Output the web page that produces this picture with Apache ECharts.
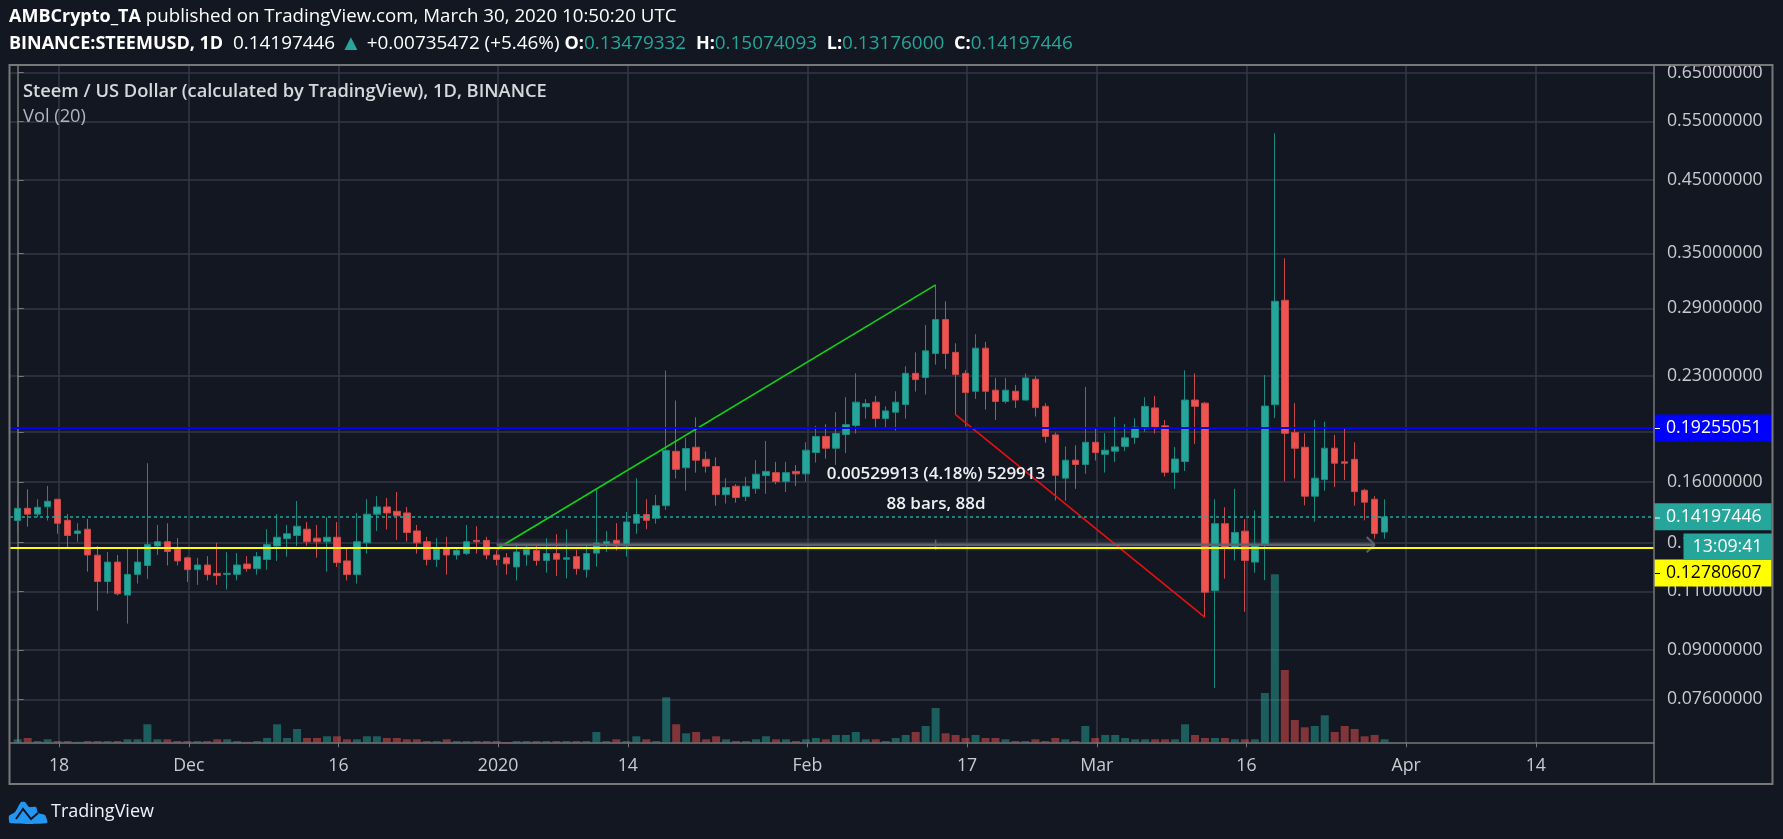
<!DOCTYPE html>
<html>
<head>
<meta charset="utf-8">
<title>STEEMUSD 1D</title>
<style>html,body{margin:0;padding:0;background:#131722}#chart{width:1783px;height:839px}</style>
<script src="https://cdn.jsdelivr.net/npm/echarts@6/dist/echarts.min.js"></script>
</head>
<body>
<div id="chart"></div>
<script>
// Daily STEEMUSD bars: open, close, low, high. The first bar is 14 Nov 2019.
const firstDay = Date.UTC(2019, 10, 14);
const ohlc = [
[.1402,.1462,.1346,.1531],[.1462,.1433,.1373,.1560],[.1433,.1467,.1418,.1508],[.1470,.1498,.1402,.1578],
[.1508,.1389,.1340,.1508],[.1403,.1332,.1272,.1433],[.1341,.1353,.1304,.1389],[.1361,.1246,.1177,.1410],
[.1245,.1138,.1030,.1285],[.1138,.1216,.1091,.1259],[.1216,.1091,.1085,.1246],[.1086,.1166,.0985,.1272],
[.1166,.1216,.1130,.1278],[.1202,.1291,.1148,.1706],[.1285,.1304,.1246,.1381],[.1304,.1261,.1202,.1389],
[.1272,.1221,.1202,.1320],[.1234,.1185,.1136,.1239],[.1185,.1204,.1125,.1234],[.1204,.1165,.1142,.1241],
[.1170,.1161,.1125,.1299],[.1166,.1170,.1107,.1259],[.1166,.1204,.1142,.1254],[.1208,.1189,.1177,.1241],
[.1189,.1239,.1165,.1259],[.1227,.1291,.1184,.1361],[.1285,.1324,.1221,.1433],[.1318,.1340,.1239,.1381],
[.1332,.1375,.1285,.1499],[.1361,.1304,.1285,.1395],[.1320,.1304,.1234,.1381],[.1304,.1324,.1177,.1418],
[.1324,.1214,.1196,.1395],[.1221,.1165,.1142,.1278],[.1165,.1304,.1130,.1439],[.1299,.1433,.1252,.1508],
[.1433,.1469,.1353,.1524],[.1469,.1439,.1360,.1515],[.1447,.1425,.1312,.1546],[.1439,.1346,.1304,.1469],
[.1353,.1299,.1252,.1381],[.1304,.1227,.1202,.1326],[.1227,.1272,.1196,.1320],[.1272,.1246,.1165,.1326],
[.1246,.1266,.1227,.1278],[.1252,.1304,.1246,.1381],[.1310,.1304,.1252,.1375],[.1310,.1246,.1227,.1326],
[.1246,.1227,.1202,.1266],[.1234,.1209,.1165,.1254],[.1196,.1259,.1142,.1299],[.1247,.1270,.1201,.1292],
[.1265,.1223,.1201,.1292],[.1223,.1252,.1173,.1320],[.1252,.1228,.1160,.1338],[.1228,.1234,.1150,.1361],
[.1239,.1189,.1165,.1268],[.1185,.1252,.1153,.1292],[.1254,.1298,.1198,.1557],[.1292,.1304,.1259,.1353],
[.1310,.1286,.1265,.1389],[.1286,.1395,.1239,.1444],[.1389,.1431,.1340,.1621],[.1431,.1403,.1361,.1508],
[.1413,.1475,.1387,.1531],[.1475,.1783,.1454,.2343],[.1777,.1671,.1619,.2115],[.1680,.1794,.1553,.1861],
[.1802,.1724,.1652,.1997],[.1729,.1689,.1652,.1776],[.1687,.1532,.1475,.1741],[.1532,.1570,.1486,.1621],
[.1577,.1517,.1491,.1588],[.1522,.1577,.1499,.1628],[.1564,.1643,.1537,.1724],[.1635,.1659,.1537,.1841],
[.1652,.1602,.1588,.1714],[.1602,.1652,.1546,.1714],[.1659,.1645,.1578,.1695],[.1645,.1784,.1602,.1833],
[.1770,.1870,.1710,.1939],[.1870,.1796,.1733,.1950],[.1796,.1889,.1696,.2032],[.1883,.1947,.1766,.2139],
[.1941,.2103,.1889,.2321],[.2071,.2093,.1988,.2125],[.2103,.1988,.1919,.2149],[.1988,.2041,.1919,.2073],
[.2032,.2103,.1908,.2183],[.2086,.2321,.1988,.2378],[.2321,.2272,.2181,.2494],[.2288,.2507,.2159,.2738],
[.2484,.2790,.2391,.3142],[.2790,.2484,.2356,.2971],[.2494,.2311,.2015,.2573],[.2321,.2173,.1934,.2347],
[.2183,.2530,.2127,.2654],[.2530,.2183,.2050,.2585],[.2191,.2108,.1978,.2285],[.2108,.2191,.2093,.2285],
[.2183,.2118,.2062,.2229],[.2118,.2285,.2115,.2321],[.2275,.2064,.2002,.2298],[.2073,.1870,.1831,.2095],
[.1880,.1637,.1502,.1895],[.1621,.1724,.1500,.1807],[.1724,.1699,.1563,.1814],[.1699,.1833,.1645,.2216],
[.1833,.1770,.1722,.1930],[.1759,.1784,.1652,.1891],[.1778,.1804,.1714,.2000],[.1807,.1861,.1778,.1950],
[.1863,.1930,.1823,.1990],[.1921,.2073,.1900,.2139],[.2062,.1930,.1889,.2149],[.1939,.1654,.1630,.1978],
[.1654,.1731,.1563,.1804],[.1716,.2118,.1661,.2345],[.2118,.2073,.1823,.2321],[.2096,.1097,.1006,.2105],
[.1103,.1387,.0790,.1508],[.1387,.1278,.1149,.1467],[.1278,.1346,.1223,.1563],[.1352,.1223,.1026,.1408],
[.1216,.1291,.1173,.1452],[.1289,.2075,.1143,.2308],[.2085,.2971,.1991,.5282],[.2981,.1890,.1604,.3442],
[.1896,.1796,.1620,.2096],[.1802,.1524,.1477,.1890],[.1524,.1621,.1396,.1979],[.1613,.1796,.1553,.1967],
[.1796,.1706,.1573,.1880],[.1714,.1706,.1611,.1930],[.1729,.1548,.1475,.1833],[.1555,.1493,.1403,.1563],
[.1508,.1341,.1318,.1524],[.13479332,.14197446,.13176,.15074093]
];
const volumes = [
3,4.3,1.3,3,1.3,1.3,.5,1.3,1.3,1.3,1.3,3,3,18,3,3,1.3,1.3,1.3,1.3,3,3,1.3,.5,1.3,4.3,18,4.3,13.3,4.3,
4.3,6,6,3,3,6,6,4.3,4.3,3,3,1.3,1.3,3,1.3,1.3,1.3,1.3,1.3,.3,1.3,1.3,1.3,1.3,1.3,1.3,1.3,1.3,10.3,1.3,
3,1.3,6,3,1.3,45,18,9,10.3,3,6,3,1.3,1.3,3,6,3,3,1.3,3,4.3,3,7.3,7.3,10.3,3,3,1.3,4.3,7.3,
10.3,16.3,34.3,9,7.3,4.3,7.3,4.3,4.3,3,1.3,1.3,3,1.3,4.3,3,1.3,16.3,4.3,7.3,7.3,4.3,3,3,3,3,3,18,
7.3,4.3,4.3,4.3,3,3,3,49.3,168,72.3,22.3,15,16.3,27,10.3,16.3,13.3,6,7.3,3
];
const tickDates = ['2019-11-18','2019-12-01','2019-12-16','2020-01-01','2020-01-14','2020-02-01','2020-02-17','2020-03-01','2020-03-16','2020-04-01','2020-04-14'];
const tickLabels = ['18','Dec','16','2020','14','Feb','17','Mar','16','Apr','14'];
const priceTicks = [0.65,0.55,0.45,0.35,0.29,0.23,0.19,0.16,0.13,0.11,0.09,0.076];
const lastPrice = 0.14197446, blueLevel = 0.19255051, yellowLevel = 0.12780607;
const riseLine = [['2020-01-01',0.1272],['2020-02-14',0.3142]];
const fallLine = [['2020-02-16',0.2015],['2020-03-12',0.1006]];
const rangeLine = [['2020-01-01',0.1290],['2020-03-29',0.1290]];
const rangeMidTick = [['2020-02-14',0.1313],['2020-02-14',0.1268]];
const rangeArrow = [['2020-03-28T05:00:00Z',0.1325],['2020-03-29',0.1290],['2020-03-28T05:00:00Z',0.1258]];
const rangeBand = [0.1264,0.1317];

const DAY = 864e5;
const UP = '#26a69a', DOWN = '#ef5350', UP_EDGE = '#1b8a80', DOWN_EDGE = '#c9494a';
const FONT = '"Open Sans", sans-serif';
const GRID_COLOR = '#333747', AXIS_COLOR = '#787878', LABEL_COLOR = '#c9cbd0';
const AXIS_FONT_SIZE = 17.7;
// The x axis counts days since the first bar; date ticks sit slightly right of the bar centre.
const TICK_SHIFT = 0.15;
const dayIndex = s => (new Date(s).getTime() - firstDay) / DAY;
const onDays = rows => rows.map(r => [dayIndex(r[0]), r[1]]);
const tickDays = tickDates.map(d => dayIndex(d) + TICK_SHIFT);
const tickName = {};
tickDays.forEach((d, i) => { tickName[d] = tickLabels[i]; });

const candleRows = ohlc.map((r, i) => [i, r[0], r[1], r[2], r[3]]);
const volumeRows = volumes.map((v, i) => ({
  value: [i, v],
  itemStyle: { color: ohlc[i][1] >= ohlc[i][0] ? 'rgba(38,166,154,0.5)' : 'rgba(239,83,80,0.5)' }
}));

function drawing(name, rows, color, width) {
  return { name, type: 'line', data: onDays(rows), symbol: 'none', silent: true, z: 6,
    lineStyle: { color, width }, animation: false };
}
function priceTag(value, bg, fg, offsetY) {
  return {
    yAxis: value,
    label: { show: true, position: 'end', distance: 0, formatter: value.toFixed(8), color: fg,
      backgroundColor: bg, fontFamily: FONT, fontSize: AXIS_FONT_SIZE, padding: [4, 10, 4, 12],
      lineHeight: 19, offset: [0, offsetY] }
  };
}
function tagTick(y, color) {
  return { type: 'line', silent: true, z: 31, shape: { x1: 1655, y1: y, x2: 1660, y2: y },
    style: { stroke: color, lineWidth: 1 } };
}

const chart = echarts.init(document.getElementById('chart'), null, { renderer: 'canvas' });
chart.setOption({
  backgroundColor: '#131722',
  animation: false,
  grid: { left: 10, top: 65, width: 1644, height: 677.3, containLabel: false },
  xAxis: {
    type: 'value',
    min: -0.77,
    max: 164,
    axisLine: { onZero: false, lineStyle: { color: AXIS_COLOR, width: 1.5 } },
    axisTick: { length: 5, lineStyle: { color: AXIS_COLOR }, customValues: tickDays },
    axisLabel: { color: LABEL_COLOR, fontFamily: FONT, fontSize: AXIS_FONT_SIZE, margin: 15,
      customValues: tickDays, formatter: v => tickName[v] || '' },
    splitLine: { show: true, lineStyle: { color: GRID_COLOR, width: 1.5 } }
  },
  yAxis: [{
    type: 'log',
    position: 'right',
    min: 0.0656,
    max: 0.6673,
    axisLine: { show: true, lineStyle: { color: AXIS_COLOR, width: 1.5 } },
    axisTick: { show: true, length: 6, lineStyle: { color: AXIS_COLOR }, customValues: priceTicks },
    axisLabel: { color: LABEL_COLOR, fontFamily: FONT, fontSize: AXIS_FONT_SIZE, margin: 13,
      customValues: priceTicks, formatter: v => Number(v).toFixed(8) },
    splitLine: { show: true, lineStyle: { color: GRID_COLOR, width: 1.5 } },
    minorTick: { show: false }
  }, {
    type: 'value', min: 0, max: 677.3, show: false, splitLine: { show: false }
  }],
  series: [
    { name: 'Vol', type: 'bar', yAxisIndex: 1, barWidth: 8, data: volumeRows, z: 1, silent: true },
    {
      name: 'STEEMUSD', type: 'candlestick', data: candleRows, barWidth: 7, z: 3,
      encode: { x: 0, y: [1, 2, 3, 4] },
      itemStyle: { color: UP, color0: DOWN, borderColor: UP_EDGE, borderColor0: DOWN_EDGE, borderWidth: 1 },
      markLine: {
        silent: true, symbol: 'none', animation: false, z: 8, precision: 8,
        data: [
          Object.assign(priceTag(blueLevel, '#0000ff', '#ffffff', 0), { lineStyle: { color: '#0000ff', width: 2, type: 'solid' } }),
          Object.assign(priceTag(lastPrice, UP, '#ffffff', 0), { lineStyle: { color: UP, width: 1.5, type: [3, 3] } }),
          Object.assign(priceTag(yellowLevel, '#ffff00', '#000000', 25.5), { lineStyle: { color: '#ffff00', width: 2, type: 'solid' } })
        ]
      },
      markArea: {
        silent: true,
        itemStyle: { color: 'rgba(130,133,145,0.12)' },
        data: [[{ coord: [dayIndex(rangeLine[0][0]), rangeBand[1]] }, { coord: [dayIndex(rangeLine[1][0]), rangeBand[0]] }]]
      }
    },
    drawing('rise', riseLine, '#13d313', 1.6),
    drawing('fall', fallLine, '#ea1010', 1.6),
    drawing('range', rangeLine, '#5f626d', 2.5),
    drawing('rangeMid', rangeMidTick, '#5f626d', 1.5),
    drawing('rangeEnd', rangeArrow, '#5f626d', 2)
  ],
  graphic: [
    { type: 'rect', silent: true, z: 20, shape: { x: 9.5, y: 65, width: 1763, height: 719 },
      style: { fill: 'none', stroke: AXIS_COLOR, lineWidth: 2 } },
    { type: 'line', silent: true, z: 20, shape: { x1: 1654, y1: 65, x2: 1654, y2: 784 },
      style: { stroke: AXIS_COLOR, lineWidth: 1.5 } },
    { type: 'text', silent: true, z: 30, x: 9, y: 7, style: {
        text: '{b|AMBCrypto_TA} published on TradingView.com, March 30, 2020 10:50:20 UTC',
        fill: '#ffffff', font: '18.7px ' + FONT, rich: { b: { fontWeight: 'bold', fontFamily: FONT, fontSize: 18, fill: '#ffffff' } } } },
    { type: 'text', silent: true, z: 30, x: 9, y: 33, style: {
        text: '{b|BINANCE:STEEMUSD, 1D}  0.14197446 {u|▲} +0.00735472 (+5.46%) {b|O:}{t|0.13479332}  {b|H:}{t|0.15074093}  {b|L:}{t|0.13176000}  {b|C:}{t|0.14197446}',
        fill: '#ffffff', font: '18.9px ' + FONT, rich: {
          b: { fontWeight: 'bold', fontFamily: FONT, fontSize: 18, fill: '#ffffff' },
          t: { fontFamily: FONT, fontSize: 18.9, fill: UP },
          u: { fontFamily: FONT, fontSize: 22, fill: UP } } } },
    { type: 'text', silent: true, z: 30, x: 23, y: 83, style: {
        text: 'Steem / US Dollar (calculated by TradingView), 1D, BINANCE',
        fill: '#d6d8dd', font: '600 18.3px ' + FONT } },
    { type: 'text', silent: true, z: 30, x: 23, y: 108, style: {
        text: 'Vol (20)', fill: '#b2b5be', font: '18.3px ' + FONT } },
    { type: 'text', silent: true, z: 30, x: 936, y: 474, style: {
        text: '0.00529913 (4.18%) 529913', fill: '#eef0f3', font: '600 17px ' + FONT,
        textAlign: 'center', textVerticalAlign: 'middle' } },
    { type: 'text', silent: true, z: 30, x: 936, y: 504, style: {
        text: '88 bars, 88d', fill: '#eef0f3', font: '600 17px ' + FONT,
        textAlign: 'center', textVerticalAlign: 'middle' } },
    { type: 'rect', silent: true, z: 30, shape: { x: 1683.5, y: 533.5, width: 88.5, height: 26 }, style: { fill: UP } },
    { type: 'text', silent: true, z: 31, x: 1727.5, y: 546.5, style: {
        text: '13:09:41', fill: '#ffffff', font: AXIS_FONT_SIZE + 'px ' + FONT, textAlign: 'center', textVerticalAlign: 'middle' } },
    tagTick(428.5, '#ffffff'),
    tagTick(518, '#ffffff'),
    tagTick(573.5, '#000000'),
    { type: 'group', silent: true, z: 30, x: 9, y: 801, children: [
        { type: 'polygon', z: 30, shape: { smooth: 0.2, points: [[1, 22], [0, 15], [6, 11], [12, 1], [16, 1], [20, 6], [27, 6], [29, 12], [36, 14], [38, 22]] },
          style: { fill: '#2196f3' } },
        { type: 'polyline', z: 31, shape: { points: [[7, 18], [14, 8], [22, 18], [29, 12]] },
          style: { stroke: '#131722', fill: 'none', lineWidth: 2 } }
      ] },
    { type: 'text', silent: true, z: 30, x: 51, y: 812, style: {
        text: 'TradingView', fill: '#f0f3fa', font: '18px ' + FONT, textVerticalAlign: 'middle' } }
  ]
});
</script>
</body>
</html>
